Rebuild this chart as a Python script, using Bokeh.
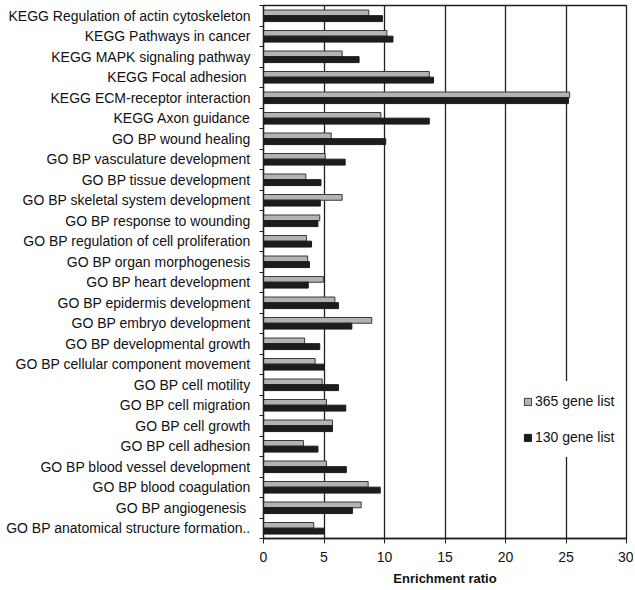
from bokeh.plotting import figure
from bokeh.models import ColumnDataSource, FixedTicker, Legend, LegendItem, Range1d
from bokeh.embed import file_html
from bokeh.resources import INLINE

categories = [
    "KEGG Regulation of actin cytoskeleton",
    "KEGG Pathways in cancer",
    "KEGG MAPK signaling pathway",
    "KEGG Focal adhesion\u00a0",
    "KEGG ECM-receptor interaction",
    "KEGG Axon guidance",
    "GO BP wound healing",
    "GO BP vasculature development",
    "GO BP tissue development",
    "GO BP skeletal system development",
    "GO BP response to wounding",
    "GO BP regulation of cell proliferation",
    "GO BP organ morphogenesis",
    "GO BP heart development",
    "GO BP epidermis development",
    "GO BP embryo development",
    "GO BP developmental growth",
    "GO BP cellular component movement",
    "GO BP cell motility",
    "GO BP cell migration",
    "GO BP cell growth",
    "GO BP cell adhesion",
    "GO BP blood vessel development",
    "GO BP blood coagulation",
    "GO BP angiogenesis\u00a0",
    "GO BP anatomical structure formation..",
]
list365 = [8.7, 10.2, 6.5, 13.7, 25.3, 9.7, 5.6, 5.1, 3.5, 6.5, 4.65, 3.55, 3.65, 4.95,
           5.9, 8.95, 3.4, 4.27, 4.85, 5.2, 5.7, 3.3, 5.2, 8.65, 8.07, 4.15]
list130 = [9.83, 10.7, 7.9, 14.05, 25.2, 13.7, 10.1, 6.75, 4.75, 4.7, 4.5, 3.97, 3.8, 3.7,
           6.2, 7.3, 4.65, 5.0, 6.2, 6.8, 5.7, 4.5, 6.85, 9.65, 7.35, 5.0]
series_names = ["365 gene list", "130 gene list"]
x_ticks = [0, 5, 10, 15, 20, 25, 30]

n = len(categories)
centers = [n - i - 0.5 for i in range(n)]

FONT = "Liberation Sans"

p = figure(width=633, height=588, output_backend="svg", toolbar_location=None,
           x_range=Range1d(0, 30), y_range=Range1d(0, n),
           min_border_left=263, min_border_right=7, min_border_top=5, min_border_bottom=46)

src365 = ColumnDataSource(dict(y=[c + 0.14 for c in centers], right=list365))
src130 = ColumnDataSource(dict(y=[c - 0.14 for c in centers], right=list130))

r1 = p.hbar(y="y", right="right", left=0, height=0.28, source=src365,
            fill_color="#b3b3b3", line_color="#3a3a3a", line_width=1)
r2 = p.hbar(y="y", right="right", left=0, height=0.29, source=src130,
            fill_color="#1c1c1c", line_color="#1c1c1c", line_width=1)

# grid
p.ygrid.grid_line_color = None
p.xgrid.ticker = FixedTicker(ticks=x_ticks)
p.xgrid.grid_line_color = "#202020"
p.xgrid.grid_line_width = 1.3
p.outline_line_color = "#202020"
p.outline_line_width = 1.3

# x axis
xa = p.xaxis[0]
xa.ticker = FixedTicker(ticks=x_ticks)
xa.axis_label = "Enrichment ratio"
xa.axis_label_text_font = FONT
xa.axis_label_text_font_style = "bold"
xa.axis_label_text_font_size = "13px"
xa.axis_label_text_color = "#111111"
xa.axis_label_standoff = 6
xa.major_label_text_font = FONT
xa.major_label_text_font_size = "14px"
xa.major_label_text_color = "#111111"
xa.major_label_standoff = 8
xa.major_tick_out = 5
xa.major_tick_in = 0
xa.minor_tick_out = 0
xa.minor_tick_in = 0
xa.axis_line_color = "#202020"
xa.axis_line_width = 1.3
xa.major_tick_line_color = "#202020"

# y axis
ya = p.yaxis[0]
ya.ticker = FixedTicker(ticks=centers, minor_ticks=list(range(0, n + 1)))
ya.major_label_overrides = {c: lab for c, lab in zip(centers, categories)}
ya.major_label_text_font = FONT
ya.major_label_text_font_size = "14px"
ya.major_label_text_color = "#111111"
ya.major_tick_out = 0
ya.major_tick_in = 0
ya.minor_tick_out = 4
ya.minor_tick_in = 0
ya.minor_tick_line_color = "#202020"
ya.major_label_standoff = 9
ya.axis_line_color = "#202020"
ya.axis_line_width = 1.3

legend = Legend(items=[LegendItem(label=series_names[0], renderers=[r1]),
                       LegendItem(label=series_names[1], renderers=[r2])],
                location=(250, 81))
legend.label_text_font = FONT
legend.label_text_font_size = "14px"
legend.label_text_color = "#111111"
legend.glyph_width = 9
legend.glyph_height = 9
legend.label_height = 20
legend.spacing = 16
legend.padding = 10
legend.margin = 0
legend.border_line_alpha = 0
legend.background_fill_color = "white"
legend.background_fill_alpha = 1
legend.label_standoff = 3
p.add_layout(legend, "center")

open("out.html", "w").write(file_html(p, INLINE))
